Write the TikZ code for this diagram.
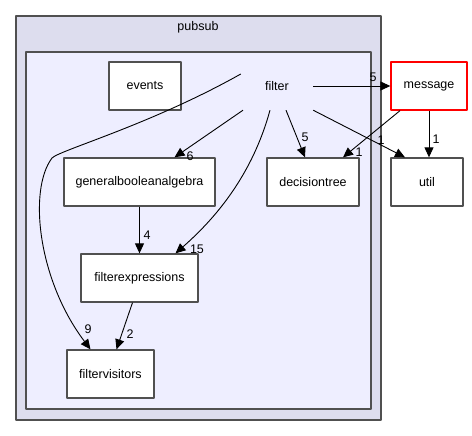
\documentclass[tikz,border=0pt]{standalone}
\usepackage{fontspec}
\setmainfont{Liberation Sans}
\usetikzlibrary{arrows.meta}
\definecolor{clusterout}{HTML}{DDDDEE}
\definecolor{clusterin}{HTML}{EEEEFF}
\definecolor{clusterline}{HTML}{505050}
\tikzset{
  dirbox/.style={draw=clusterline,line width=1.3pt,fill=white,minimum height=48pt,inner sep=0pt},
  dep/.style={line width=0.9pt,-{Triangle[length=10pt,width=9pt]}},
  num/.style={inner sep=0pt}
}
\begin{document}
\begin{tikzpicture}[x=1pt,y=-1pt,line join=round,font=\fontsize{12.5}{15}\selectfont]
  \useasboundingbox (0,0) rectangle (472,436);
  % clusters
  \draw[clusterline,fill=clusterout,line width=1.6pt] (16,16) rectangle (381,420);
  \node (pubsub) at (198,27) {pubsub};
  \draw[clusterline,fill=clusterin,line width=1.6pt] (26,52) rectangle (371,409);
  % directories
  \node[dirbox,minimum width=72pt] (events) at (145,86) {events};
  \node[minimum width=72pt,minimum height=48pt,inner sep=0pt] (filter) at (277,86) {filter};
  \node[dirbox,minimum width=151pt] (gba) at (139.5,182) {generalbooleanalgebra};
  \node[dirbox,minimum width=92pt] (dtree) at (313,182) {decisiontree};
  \node[dirbox,minimum width=117pt] (fexpr) at (139.5,278) {filterexpressions};
  \node[dirbox,minimum width=87pt] (fvis) at (110.5,374) {filtervisitors};
  \node[dirbox,draw=red,line width=1.3pt,minimum width=76pt] (message) at (429,86) {message};
  \node[dirbox,minimum width=72pt] (util) at (427,182) {util};
  % dependencies
  \draw[dep] (filter.east) -- (message.west);
  \node[num] (n5a) at (373,77) {5};
  \draw[dep] ([xshift=-34]filter.south) -- ([xshift=35]gba.north);
  \node[num] (n6) at (190,156) {6};
  \draw[dep] ([xshift=9]filter.south) -- ([xshift=-8]dtree.north);
  \node[num] (n5b) at (305,137) {5};
  \draw[dep] (filter.south east) -- ([xshift=-22]util.north);
  \node[num] (n1a) at (381,140) {1};
  \draw[dep] ([xshift=-29]message.south) -- ([xshift=30]dtree.north);
  \node[num] (n1b) at (359,152) {1};
  \draw[dep] (message.south) -- (message.south |- util.north);
  \node[num] (n1c) at (436,139) {1};
  \draw[dep] ([xshift=-7]filter.south) .. controls (255,165) and (225,210) .. ([xshift=36]fexpr.north);
  \node[num] (n15) at (197,249) {15};
  \draw[dep] ([yshift=12]filter.west) .. controls (150,125) and (60,150) .. (52,158)
    .. controls (28,190) and (38,280) .. ([xshift=-20]fvis.north);
  \node[num] (n9) at (88,329) {9};
  \draw[dep] (gba.south) -- (fexpr.north);
  \node[num] (n4) at (147,235) {4};
  \draw[dep] ([xshift=-7]fexpr.south) -- ([xshift=6]fvis.north);
  \node[num] (n2) at (130,334) {2};
\end{tikzpicture}
\end{document}
